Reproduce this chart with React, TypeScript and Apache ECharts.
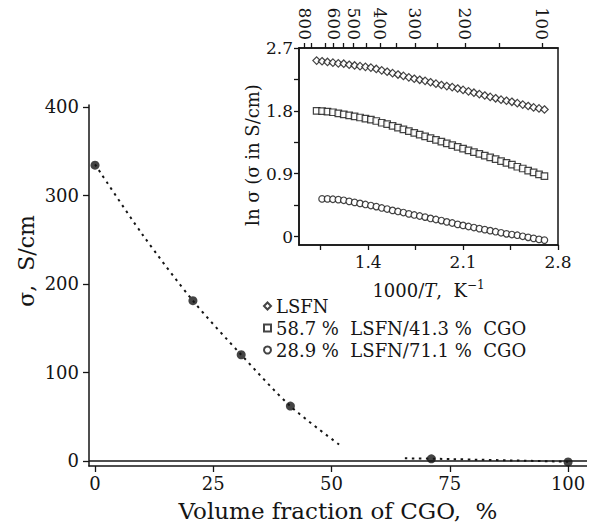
import React, { useEffect, useRef } from "react";
import * as echarts from "echarts";

// ---- Main chart data ----
const mainX = [0, 20.7, 30.9, 41.3, 71.1, 100];
const mainY = [334, 181, 120, 62, 2.5, -1];
const fit1X = [0, 10, 20.7, 30.9, 41.3, 52];
const fit1Y = [335, 256, 181, 120, 62, 17];
const fit2X = [65.5, 71.1, 100];
const fit2Y = [3, 2.6, -0.8];
const mainXTicks = [0, 25, 50, 75, 100];
const mainYTicks = [0, 100, 200, 300, 400];

// ---- Inset data ----
const insetX = [
  1.02, 1.06, 1.1, 1.14, 1.18, 1.22, 1.26, 1.3, 1.34, 1.38, 1.42, 1.46, 1.5, 1.54, 1.58,
  1.62, 1.66, 1.7, 1.74, 1.78, 1.82, 1.86, 1.9, 1.94, 1.98, 2.02, 2.06, 2.1, 2.14, 2.18,
  2.22, 2.26, 2.3, 2.34, 2.38, 2.42, 2.46, 2.5, 2.54, 2.58, 2.62, 2.66, 2.7,
];
const lsfnY = [
  2.52, 2.51, 2.5, 2.49, 2.48, 2.475, 2.46, 2.45, 2.44, 2.43, 2.42, 2.4, 2.38, 2.36, 2.34,
  2.32, 2.3, 2.28, 2.26, 2.245, 2.23, 2.21, 2.19, 2.17, 2.155, 2.14, 2.12, 2.1, 2.08, 2.06,
  2.04, 2.02, 2.0, 1.98, 1.96, 1.945, 1.93, 1.91, 1.89, 1.87, 1.85, 1.835, 1.82,
];
const mix587Y = [
  1.8, 1.795, 1.79, 1.78, 1.765, 1.75, 1.735, 1.72, 1.705, 1.69, 1.675, 1.655, 1.63, 1.61, 1.585,
  1.56, 1.535, 1.51, 1.485, 1.46, 1.435, 1.41, 1.385, 1.36, 1.335, 1.31, 1.285, 1.26, 1.235, 1.21,
  1.185, 1.16, 1.135, 1.11, 1.08, 1.055, 1.03, 1.0, 0.975, 0.945, 0.92, 0.89, 0.865,
];
const mix289Y = [
  null, 0.54, 0.54, 0.535, 0.53, 0.52, 0.505, 0.49, 0.475, 0.46, 0.445, 0.43, 0.41, 0.395, 0.375,
  0.36, 0.345, 0.325, 0.31, 0.295, 0.28, 0.26, 0.245, 0.23, 0.21, 0.195, 0.175, 0.16, 0.145, 0.13,
  0.115, 0.1, 0.085, 0.07, 0.055, 0.04, 0.03, 0.02, 0.005, -0.01, -0.025, -0.04, -0.05,
];
const insetXTicks = [1.05, 1.4, 1.75, 2.1, 2.45, 2.8];
const insetXLabels = [1.4, 2.1, 2.8];
const insetYTicks = [0, 0.45, 0.9, 1.35, 1.8, 2.25, 2.7];
const insetYLabels = [0, 0.9, 1.8, 2.7];
const topTempTicks = [800, 750, 700, 650, 600, 550, 500, 450, 400, 350, 300, 250, 200, 150, 100];
const topTempLabels = [800, 700, 600, 500, 400, 300, 200, 100];
const seriesNames = ["LSFN", "58.7 %  LSFN/41.3 %  CGO", "28.9 %  LSFN/71.1 %  CGO"];

const FONT = "'DejaVu Serif', 'Liberation Serif', serif";
const INK = "#151515";

const zip = (xs: number[], ys: (number | null)[]) =>
  xs.map((x, i) => (ys[i] === null ? [x, null] : [x, ys[i]]));
const tempToInv = (t: number) => 1000 / (t + 273);

export default function App() {
  const ref = useRef<HTMLDivElement>(null);
  useEffect(() => {
    if (!ref.current) return;
    const chart = echarts.init(ref.current, null, { renderer: "svg" });
    const axisLine = { show: true, onZero: false, lineStyle: { color: INK, width: 1.5 } };
    const tickStyle = { lineStyle: { color: INK, width: 1.3 } };
    const mainLabel = { color: INK, fontFamily: FONT, fontSize: 18 };
    const insetLabel = { color: INK, fontFamily: FONT, fontSize: 17 };
    const insetSym = { color: "#fff", borderColor: INK, borderWidth: 1.2 };

    chart.setOption({
      animation: false,
      backgroundColor: "#fff",
      grid: [
        { left: 89, right: 8, top: 105, bottom: 64, containLabel: false },
        {
          left: 299, right: 37, top: 48, bottom: 285, containLabel: false,
          show: true, borderColor: INK, borderWidth: 1.5, backgroundColor: "rgba(0,0,0,0)",
        },
      ],
      graphic: [
        {
          type: "text", x: 26, y: 261, rotation: Math.PI / 2,
          style: {
            text: "σ,  S/cm", fill: INK, font: `22px ${FONT}`,
            textAlign: "center", textVerticalAlign: "middle", align: "center", verticalAlign: "middle",
          },
        },
        {
          type: "text", x: 252, y: 155, rotation: Math.PI / 2,
          style: {
            text: "ln σ (σ in S/cm)", fill: INK, font: `18px ${FONT}`,
            textAlign: "center", textVerticalAlign: "middle", align: "center", verticalAlign: "middle",
          },
        },
      ],
      legend: {
        orient: "vertical",
        left: 258,
        top: 292,
        itemWidth: 7,
        itemHeight: 7,
        itemGap: 4,
        textStyle: { color: INK, fontFamily: FONT, fontSize: 18 },
        data: [
          { name: seriesNames[0], icon: "diamond" },
          { name: seriesNames[1], icon: "rect" },
          { name: seriesNames[2], icon: "circle" },
        ],
      },
      xAxis: [
        {
          gridIndex: 0, type: "value", min: -1.27, max: 104,
          axisLine,
          axisTick: { show: true, length: 6, customValues: mainXTicks, ...tickStyle },
          axisLabel: { ...mainLabel, margin: 8, customValues: mainXTicks },
          splitLine: { show: false },
          name: "Volume fraction of CGO,  %",
          nameLocation: "middle",
          nameGap: 33,
          nameTextStyle: { color: INK, fontFamily: FONT, fontSize: 23 },
        },
        {
          gridIndex: 1, type: "value", min: 0.89, max: 2.8, position: "bottom",
          axisLine,
          axisTick: { show: true, length: 5, customValues: insetXTicks, ...tickStyle },
          axisLabel: { ...insetLabel, margin: 8, customValues: insetXLabels },
          splitLine: { show: false },
          name: "1000/{i|T},  K{sup|−1}",
          nameLocation: "middle",
          nameGap: 34,
          nameTextStyle: {
            color: INK, fontFamily: FONT, fontSize: 18,
            rich: {
              i: { fontStyle: "italic", fontFamily: FONT, fontSize: 18, color: INK },
              sup: { fontFamily: FONT, fontSize: 12, color: INK, verticalAlign: "top", padding: [0, 0, 10, 0] },
            },
          },
        },
        {
          gridIndex: 1, type: "value", min: 0.89, max: 2.8, position: "top",
          axisLine,
          axisTick: { show: true, length: 5, customValues: topTempTicks.map(tempToInv), ...tickStyle },
          axisLabel: {
            ...insetLabel, margin: 8, rotate: 90,
            showMinLabel: true, showMaxLabel: true, hideOverlap: false,
            customValues: topTempLabels.map(tempToInv),
            formatter: (v: number) => String(Math.round((1000 / v - 273) / 50) * 50),
          },
          splitLine: { show: false },
        },
      ],
      yAxis: [
        {
          gridIndex: 0, type: "value", min: -5.65, max: 402,
          axisLine,
          axisTick: { show: true, length: 6, customValues: mainYTicks, ...tickStyle },
          axisLabel: { ...mainLabel, margin: 10, customValues: mainYTicks },
          splitLine: { show: false },
        },
        {
          gridIndex: 1, type: "value", min: -0.12, max: 2.7,
          axisLine,
          axisTick: { show: true, length: 5, customValues: insetYTicks, ...tickStyle },
          axisLabel: { ...insetLabel, margin: 6, customValues: insetYLabels },
          splitLine: { show: false },
        },
      ],
      series: [
        {
          type: "line", xAxisIndex: 0, yAxisIndex: 0,
          data: zip(fit1X, fit1Y), smooth: 0.3, showSymbol: false, silent: true,
          lineStyle: { color: INK, width: 2, type: [2.5, 4.5] },
        },
        {
          type: "line", xAxisIndex: 0, yAxisIndex: 0,
          data: zip(fit2X, fit2Y), smooth: 0.3, showSymbol: false, silent: true,
          lineStyle: { color: INK, width: 2, type: [2.5, 4.5] },
        },
        {
          type: "scatter", xAxisIndex: 0, yAxisIndex: 0,
          data: zip(mainX, mainY), symbolSize: 9,
          itemStyle: { color: INK },
          z: 5,
          markLine: {
            silent: true, symbol: "none", label: { show: false },
            lineStyle: { color: INK, width: 1.5, type: "solid" },
            data: [{ yAxis: 0 }],
          },
        },
        {
          name: seriesNames[0], type: "scatter", xAxisIndex: 1, yAxisIndex: 1,
          data: zip(insetX, lsfnY), symbol: "diamond", symbolSize: 7.5, itemStyle: insetSym,
        },
        {
          name: seriesNames[1], type: "scatter", xAxisIndex: 1, yAxisIndex: 1,
          data: zip(insetX, mix587Y), symbol: "rect", symbolSize: 6.5, itemStyle: insetSym,
        },
        {
          name: seriesNames[2], type: "scatter", xAxisIndex: 1, yAxisIndex: 1,
          data: zip(insetX, mix289Y), symbol: "circle", symbolSize: 6.5, itemStyle: insetSym,
        },
      ],
    });
    return () => chart.dispose();
  }, []);
  return <div ref={ref} style={{ width: 595, height: 530, margin: -8 }} />;
}
